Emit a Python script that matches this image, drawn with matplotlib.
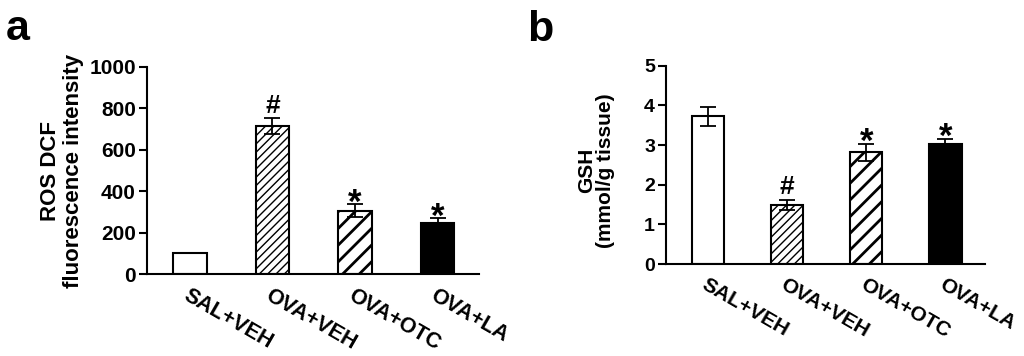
import matplotlib
matplotlib.use('Agg')
import matplotlib.pyplot as plt

plt.rcParams['font.family'] = ['Liberation Sans', 'DejaVu Sans']
plt.rcParams['font.weight'] = 'bold'
plt.rcParams['hatch.linewidth'] = 1.0

#data
groups = ['SAL+VEH', 'OVA+VEH', 'OVA+OTC', 'OVA+LA']
ros_mean = [100, 715, 306, 245]
ros_err = [0, 37, 32, 24]
ros_marks = ['', '#', '*', '*']
gsh_mean = [3.72, 1.49, 2.82, 3.02]
gsh_err = [0.23, 0.13, 0.21, 0.14]
gsh_marks = ['', '#', '*', '*']

faces = ['white', 'white', 'white', 'black']
hatches = [None, '////', '//', None]
hatch_lw = [1.0, 1.0, 2.0, 1.0]

fig = plt.figure(figsize=(10.24, 3.56), dpi=100)
ax_a = fig.add_axes([0.1436, 0.2303, 0.324, 0.5815])
ax_b = fig.add_axes([0.6504, 0.2584, 0.3115, 0.557])


def draw(ax, means, errs, marks, ymax, step, fs_tick, fs_lab, xlim):
    x = list(range(len(groups)))
    bars = ax.bar(x, means, width=0.41, color=faces, edgecolor='black',
                  linewidth=1.5, zorder=2)
    for b, h, lw in zip(bars, hatches, hatch_lw):
        if h:
            b.set_hatch(h)
            if hasattr(b, 'set_hatch_linewidth'):
                b.set_hatch_linewidth(lw)
    ax.errorbar(x, means, yerr=errs, fmt='none', ecolor='black',
                elinewidth=1.3, capsize=6, capthick=1.3, zorder=3)
    # significance marks above the error bars
    for xi, m, e, s in zip(x, means, errs, marks):
        if s == '#':
            ax.annotate(s, (xi, m + e), xytext=(0, 4), textcoords='offset points',
                        ha='center', va='baseline', fontsize=19,
                        fontweight='bold')
        elif s == '*':
            ax.annotate(s, (xi, m + e), xytext=(0, -6), textcoords='offset points',
                        ha='center', va='baseline', fontsize=25,
                        fontweight='bold')
    ax.set_xlim(*xlim)
    ax.set_ylim(0, ymax)
    ax.set_yticks([i * step for i in range(int(round(ymax / step)) + 1)])
    ax.spines['top'].set_visible(False)
    ax.spines['right'].set_visible(False)
    ax.spines['left'].set_linewidth(1.5)
    ax.spines['bottom'].set_linewidth(1.5)
    ax.tick_params(axis='y', length=6, width=1.5, labelsize=fs_tick, pad=2)
    ax.tick_params(axis='x', length=0, pad=8)
    ax.set_xticks(x)
    ax.set_xticklabels(groups, rotation=-30, ha='left', rotation_mode='anchor',
                       fontsize=fs_lab, fontweight='bold')


draw(ax_a, ros_mean, ros_err, ros_marks, 1000, 200, 15, 15.5, (-0.52, 3.5))
draw(ax_b, gsh_mean, gsh_err, gsh_marks, 5, 1, 14, 15, (-0.53, 3.5))

ax_a.set_ylabel('ROS DCF\nfluorescence intensity', fontsize=16,
                fontweight='bold', linespacing=1.1)
ax_a.yaxis.set_label_coords(-0.19, 0.5)
ax_b.set_ylabel('GSH\n(mmol/g tissue)', fontsize=15, fontweight='bold',
                linespacing=1.0)
ax_b.yaxis.set_label_coords(-0.16, 0.47)

fig.text(0.006, 0.888, 'a', fontsize=31, fontweight='bold', va='baseline')
fig.text(0.515, 0.885, 'b', fontsize=31, fontweight='bold', va='baseline')

fig.savefig('out.png', dpi=100)
